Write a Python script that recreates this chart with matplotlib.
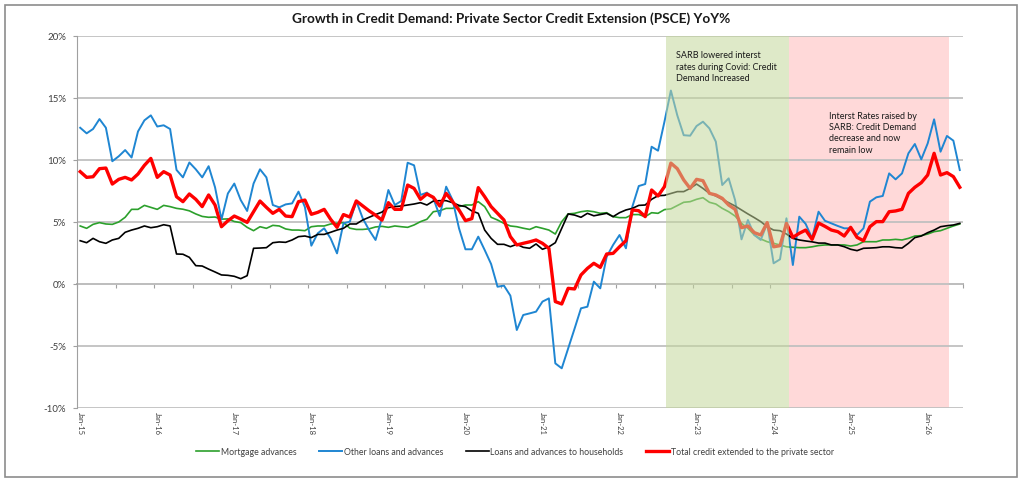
import matplotlib.pyplot as plt
import numpy as np
import pandas as pd
from matplotlib.patches import Rectangle

plt.rcParams['font.family'] = ['Lato', 'DejaVu Sans']

# monthly YoY growth in %, Jan-15 .. Jun-26
months = pd.date_range('2015-01-01', periods=138, freq='MS')

mortgage = [
    4.68, 4.49, 4.81, 4.95, 4.84, 4.81, 5.0, 5.38, 6.02, 6.02, 6.34, 6.18, 6.02, 6.34, 6.24, 6.1, 6.03, 5.9, 5.65, 5.45, 5.38, 5.4, 5.23, 5.25, 5.04,
    4.95, 4.57, 4.3, 4.62, 4.49, 4.73, 4.68, 4.44, 4.35, 4.35, 4.3, 4.62, 4.68, 4.68, 4.84, 4.9, 4.95, 4.5, 4.4, 4.4, 4.45, 4.6, 4.65,
    4.57, 4.68, 4.62, 4.57, 4.76, 5.03, 5.22, 5.83, 5.91, 6.1, 6.1, 6.24, 6.37, 6.37, 6.64, 6.24, 5.38, 5.16, 4.89, 4.68, 4.62, 4.5, 4.4,
    4.62, 4.49, 4.35, 4.03, 5.03, 5.65, 5.7, 5.83, 5.9, 5.83, 5.7, 5.75, 5.43, 5.35, 5.35, 5.6, 5.6, 5.43, 5.75, 5.7, 6.0, 6.06, 6.33,
    6.59, 6.64, 6.83, 6.96, 6.59, 6.45, 6.1, 5.83, 5.48, 4.89, 4.49, 3.95, 3.63, 3.41, 3.28, 3.15, 3.0, 2.96, 2.93, 2.93, 3.0, 3.1, 3.15,
    3.15, 3.15, 3.15, 3.06, 3.15, 3.41, 3.41, 3.41, 3.55, 3.55, 3.6, 3.55, 3.68, 3.87, 3.9, 4.03, 4.22, 4.3, 4.49, 4.68, 4.84,
]
other_loans = [
    12.6, 12.15, 12.5, 13.3, 12.6, 9.9, 10.3, 10.8, 10.2, 12.3, 13.2, 13.6, 12.7, 12.8, 12.5, 9.2, 8.6, 9.8, 9.25, 8.6, 9.5, 7.8, 5.2, 7.3, 8.1,
    6.77, 5.89, 8.1, 9.25, 8.6, 6.37, 6.18, 6.42, 6.5, 7.45, 6.2, 3.09, 4.09, 4.49, 3.68, 2.47, 4.89, 5.03, 6.69, 5.3, 4.35, 3.55, 5.3,
    7.58, 6.37, 6.69, 9.78, 9.57, 7.18, 7.37, 6.91, 5.48, 7.85, 6.77, 4.49, 2.8, 2.8, 3.82, 2.74, 1.61, -0.22, -0.13, -0.94, -3.71, -2.5, -2.37,
    -2.23, -1.42, -1.16, -6.4, -6.8, -5.2, -3.6, -1.96, -1.83, 0.19, -0.35, 2.2, 3.15, 3.95, 2.88, 6.24, 7.9, 8.06, 11.07, 10.75, 13.09, 15.6, 13.6,
    12.0, 11.96, 12.74, 13.09, 12.55, 11.48, 7.98, 8.52, 6.77, 3.6, 5.16, 3.95, 3.55, 4.89, 1.67, 1.99, 5.3, 1.53, 5.43, 4.84, 3.68, 5.83, 5.1,
    4.89, 4.68, 4.49, 4.49, 3.95, 4.49, 6.64, 6.99, 7.1, 8.92, 8.44, 8.92, 10.54, 11.29, 10.05, 11.34, 13.28, 10.67, 11.94, 11.56, 9.19,
]
households = [
    3.49, 3.33, 3.68, 3.41, 3.28, 3.55, 3.68, 4.17, 4.35, 4.49, 4.68, 4.54, 4.62, 4.78, 4.68, 2.42, 2.4, 2.15, 1.48, 1.45, 1.2, 0.97, 0.73, 0.7, 0.62,
    0.43, 0.67, 2.88, 2.9, 2.93, 3.33, 3.39, 3.36, 3.55, 3.82, 3.87, 3.74, 4.0, 4.0, 4.17, 4.35, 4.49, 4.84, 4.84, 5.16, 5.38, 5.6, 5.8,
    6.16, 6.24, 6.29, 6.37, 6.45, 6.56, 6.37, 6.69, 6.72, 6.72, 6.56, 6.34, 6.24, 5.89, 5.7, 4.35, 3.68, 3.2, 3.2, 3.01, 3.2, 2.96, 2.88,
    3.23, 2.8, 3.0, 3.33, 4.49, 5.65, 5.56, 5.38, 5.7, 5.5, 5.6, 5.7, 5.43, 5.75, 5.97, 6.1, 6.34, 6.37, 6.83, 7.12, 7.15, 7.3, 7.45,
    7.45, 7.71, 8.06, 7.71, 7.31, 7.1, 6.83, 6.56, 6.29, 5.97, 5.65, 5.35, 5.03, 4.62, 4.35, 4.3, 4.03, 3.68, 3.55, 3.47, 3.4, 3.3, 3.3,
    3.15, 3.15, 3.01, 2.8, 2.69, 2.88, 2.9, 2.93, 3.0, 3.0, 2.93, 2.9, 3.28, 3.74, 3.87, 4.14, 4.35, 4.62, 4.7, 4.76, 4.89,
]
total_credit = [
    9.06, 8.6, 8.65, 9.3, 9.35, 8.06, 8.44, 8.6, 8.39, 8.87, 9.57, 10.13, 8.6, 9.06, 8.79, 7.04, 6.64, 7.26, 6.83, 6.24, 7.18, 6.37, 4.62, 5.1, 5.48,
    5.24, 4.97, 5.83, 6.69, 6.18, 5.7, 6.02, 5.48, 5.43, 6.64, 6.77, 5.62, 5.78, 6.02, 5.22, 4.57, 5.6, 5.4, 6.7, 6.3, 5.9, 5.55, 5.15,
    6.56, 6.02, 6.02, 7.98, 7.71, 6.83, 7.26, 6.99, 6.29, 7.31, 6.64, 5.97, 5.11, 5.27, 7.77, 7.04, 6.24, 5.7, 5.16, 3.82, 3.15, 3.28, 3.4,
    3.55, 3.28, 2.88, -1.42, -1.61, -0.35, -0.4, 0.73, 1.26, 1.67, 1.34, 2.42, 2.47, 3.0, 3.49, 5.97, 5.91, 5.43, 7.58, 7.1, 7.85, 9.75, 9.3,
    8.39, 7.71, 8.44, 8.33, 7.31, 7.18, 6.91, 6.37, 6.02, 4.54, 4.68, 4.14, 3.95, 4.95, 3.0, 3.09, 4.89, 3.76, 4.09, 4.35, 3.6, 4.92, 4.65,
    4.35, 4.22, 3.87, 4.57, 3.76, 3.49, 4.62, 5.03, 5.03, 5.83, 5.89, 6.02, 7.31, 7.8, 8.17, 8.79, 10.54, 8.79, 8.98, 8.66, 7.8,
]

tick_labels = ['Jan-15', 'Jan-16', 'Jan-17', 'Jan-18', 'Jan-19', 'Jan-20',
               'Jan-21', 'Jan-22', 'Jan-23', 'Jan-24', 'Jan-25', 'Jan-26']

# shaded periods, in months from Jan-15
covid_cuts = (91.7, 110.9)
rate_hikes = (110.9, 135.8)

note_cuts = 'SARB lowered interst\nrates during Covid: Credit\nDemand Increased'
note_hikes = 'Interst Rates raised by\nSARB: Credit Demand\ndecrease and now\nremain low'

txt = '#404040'
grid = '#c0c0c0'

fig = plt.figure(figsize=(10.24, 4.84), dpi=100)
fig.patches.append(Rectangle((5 / 1024, 7 / 484), 1012 / 1024, 472 / 484, transform=fig.transFigure,
                             fill=False, edgecolor='#8c8c8c', lw=1.2))
ax = fig.add_axes([77 / 1024, 1 - 408 / 484, 886 / 1024, 372 / 484])

x = np.arange(len(months)) + 0.5
ax.axvspan(*rate_hikes, color='#ffd9d9', lw=0, zorder=0.2)
ax.plot(x, mortgage, color='#2ca02c', lw=1.2, label='Mortgage advances', zorder=3)
ax.plot(x, other_loans, color='#1f86d2', lw=1.4, label='Other loans and advances', zorder=3)
ax.plot(x, households, color='black', lw=1.2, label='Loans and advances to households', zorder=3)
ax.plot(x, total_credit, color='#ff0000', lw=2.4, label='Total credit extended to the private sector', zorder=4)
ax.axvspan(*covid_cuts, color='#c4d79b', alpha=0.55, lw=0, zorder=5)

ax.text(93.3, 18.75, note_cuts, fontsize=6.5, color='#1a1a1a', va='top', ha='left', linespacing=1.3, zorder=6)
ax.text(117.1, 13.85, note_hikes, fontsize=6.5, color='#1a1a1a', va='top', ha='left', linespacing=1.3, zorder=6)

ax.set_xlim(0, len(months))
ax.set_ylim(-10, 20)
yt = np.arange(-10, 21, 5)
ax.set_yticks(yt)
ax.set_yticklabels([f'{v}%' for v in yt])
ax.yaxis.grid(True, color=grid, lw=1.3)
ax.set_axisbelow(True)
ax.tick_params(axis='y', length=3, color='#a0a0a0', labelsize=7, labelcolor=txt, pad=5)

ax.set_xticks(np.arange(len(tick_labels)) * 12 + 0.5)
ax.set_xticklabels(tick_labels, rotation=270, fontsize=5.5, color=txt)
ax.tick_params(axis='x', length=0, pad=3)

for side in ['top', 'right', 'bottom']:
    ax.spines[side].set_visible(False)
ax.spines['left'].set_color('#a0a0a0')

# category axis crosses at 0%
zero_axis = ax.secondary_xaxis(1 / 3)
zero_axis.set_xticks(np.arange(0, len(months) + 1, 6))
zero_axis.tick_params(direction='out', length=3, color='#a0a0a0', labelbottom=False, labeltop=False)
zero_axis.spines['bottom'].set_color('#a8a8a8')
zero_axis.spines['bottom'].set_linewidth(1.3)

fig.text(0.499, 0.961, 'Growth in Credit Demand: Private Sector Credit Extension (PSCE) YoY%',
         ha='center', va='center', fontsize=9.8, fontweight='bold', color='#1a1a1a')

handles, labels = ax.get_legend_handles_labels()
leg = fig.legend(handles, labels, loc='center', bbox_to_anchor=(0.503, 0.066), ncol=4, frameon=False,
                 fontsize=6.3, handlelength=2.6, handletextpad=0.2, columnspacing=2.6)
for t in leg.get_texts():
    t.set_color(txt)

plt.savefig('out.png', dpi=100)
